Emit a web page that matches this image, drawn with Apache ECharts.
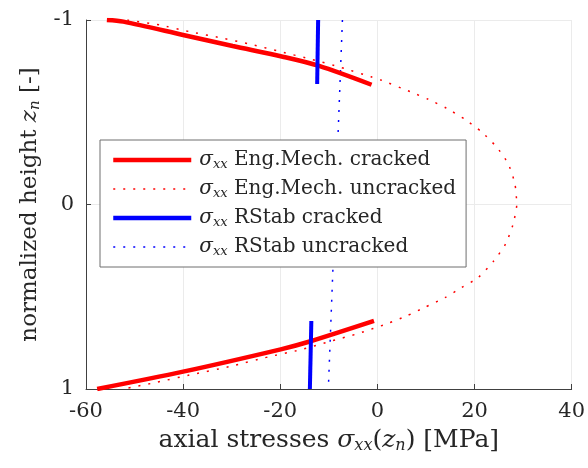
<!DOCTYPE html>
<html>
<head>
<meta charset="utf-8">
<script src="https://cdn.jsdelivr.net/npm/echarts@6/dist/echarts.min.js"></script>
<style>html,body{margin:0;padding:0;background:#fff}#c{width:588px;height:468px}</style>
</head>
<body>
<div id="c"></div>
<script>
// x ticks and y ticks
const xTicks = [-60, -40, -20, 0, 20, 40];
const yTicks = [-1, 0, 1];

// Eng.Mech. cracked (top and bottom branches) [stress, z]
const engCrackedTop = [[-55.7,-1.0],[-52.3,-0.991],[-40.0,-0.919],[-29.8,-0.859],[-19.5,-0.801],[-12.0,-0.751],[-1.2,-0.649]];
const engCrackedBottom = [[-57.7,1.0],[-40.0,0.906],[-19.9,0.785],[-14.1,0.744],[-0.7,0.631]];

// Eng.Mech. uncracked
const engUncracked = [[-51.5,-1.0],[-44.8,-0.973],[-38.7,-0.937],[-32.4,-0.904],[-26.0,-0.868],[-19.9,-0.828],[-13.6,-0.787],[-7.5,-0.743],[-1.3,-0.692],[0.7,-0.675],[6.8,-0.611],[10.5,-0.570],[14.3,-0.521],[18.0,-0.462],[21.4,-0.395],[24.5,-0.313],[26.9,-0.223],[28.3,-0.115],[28.7,0.0],[27.9,0.111],[26.4,0.214],[24.0,0.305],[20.8,0.395],[17.3,0.451],[13.9,0.505],[9.8,0.557],[6.1,0.603],[2.0,0.646],[-3.8,0.698],[-10.0,0.744],[-16.1,0.789],[-22.3,0.825],[-30.5,0.879],[-38.7,0.924],[-45.5,0.964],[-51.6,0.996]];

// RStab cracked
const rstabCrackedTop = [[-12.2,-1.0],[-12.4,-0.653]];
const rstabCrackedBottom = [[-13.6,0.631],[-13.9,1.0]];

// RStab uncracked
const rstabUncracked = [[-7.2,-1.0],[-10.1,1.0]];

const names = ['Eng.Mech. cracked','Eng.Mech. uncracked','RStab cracked','RStab uncracked'];

const FONT = 'DejaVu Serif';
const TXT = '#262626';
const RED = '#ff0000', BLUE = '#0000ff';

function mkRich(size, subSize, lh, pad) {
  return {
    i: {fontFamily: FONT, fontStyle: 'italic', fontSize: size, color: TXT, lineHeight: lh},
    sub: {fontFamily: FONT, fontStyle: 'italic', fontSize: subSize, color: TXT, lineHeight: lh, padding: [pad,0,0,0]},
    n: {fontFamily: FONT, fontSize: size, color: TXT, lineHeight: lh}
  };
}
const xRich = mkRich(25, 16, 28, 11);
const yRich = mkRich(23, 15, 26, 10);
const legRich = mkRich(20, 13, 22, 9);

const chart = echarts.init(document.getElementById('c'), null, {renderer: 'canvas'});

function lineSeries(name, data, color, width, type, smooth) {
  return {
    name: name, type: 'line', data: data, symbol: 'none', showSymbol: false,
    smooth: smooth || false,
    lineStyle: {color: color, width: width, type: type, cap: 'butt'},
    itemStyle: {color: color},
    animation: false, silent: true, clip: true
  };
}

chart.setOption({
  animation: false,
  backgroundColor: '#fff',
  grid: {left: 86, top: 20, right: 14, bottom: 79, containLabel: false},
  xAxis: {
    type: 'value', min: xTicks[0], max: xTicks[xTicks.length-1], interval: 20,
    axisLine: {show: true, onZero: false, lineStyle: {color: '#404040', width: 1}},
    axisTick: {show: true, inside: true, length: 5, lineStyle: {color: '#404040'}},
    axisLabel: {fontFamily: FONT, fontSize: 21, color: TXT, margin: 12},
    splitLine: {show: true, lineStyle: {color: '#ebebeb', width: 1}},
    name: 'axial stresses {i|σ}{sub|xx}{n|(}{i|z}{sub|n}{n|) [MPa]}',
    nameLocation: 'middle', nameGap: 37,
    nameTextStyle: {fontFamily: FONT, fontSize: 25, color: TXT, rich: xRich}
  },
  yAxis: {
    type: 'value', inverse: true, min: yTicks[0], max: yTicks[yTicks.length-1], interval: 1,
    axisLine: {show: true, onZero: false, lineStyle: {color: '#404040', width: 1}},
    axisTick: {show: true, inside: true, length: 5, lineStyle: {color: '#404040'}},
    axisLabel: {fontFamily: FONT, fontSize: 21, color: TXT, margin: 12},
    splitLine: {show: true, lineStyle: {color: '#ebebeb', width: 1}},
    name: 'normalized height {i|z}{sub|n} {n|[-]}',
    nameLocation: 'middle', nameGap: 36, nameRotate: 90,
    nameTextStyle: {fontFamily: FONT, fontSize: 23, color: TXT, rich: yRich}
  },
  legend: {
    show: true, orient: 'vertical', left: 100, top: 140,
    padding: [9, 10, 9, 11], itemGap: 7,
    itemWidth: 78, itemHeight: 14,
    backgroundColor: '#fff', borderColor: '#6e6e6e', borderWidth: 1,
    data: [
      {name: names[0], itemStyle: {opacity: 0}, lineStyle: {width: 4.5, type: 'solid', color: RED}},
      {name: names[1], itemStyle: {opacity: 0}, lineStyle: {width: 1.5, type: [2, 8], color: RED}},
      {name: names[2], itemStyle: {opacity: 0}, lineStyle: {width: 4.5, type: 'solid', color: BLUE}},
      {name: names[3], itemStyle: {opacity: 0}, lineStyle: {width: 1.5, type: [2, 8], color: BLUE}}
    ],
    itemStyle: {opacity: 0},
    formatter: function (n) { return '{i|σ}{sub|xx} {n|' + n + '}'; },
    textStyle: {fontFamily: FONT, fontSize: 20, color: TXT, rich: legRich, padding: [0,0,0,3]}
  },
  series: [
    lineSeries(names[1], engUncracked, RED, 1.5, [2, 8], 0.2),
    lineSeries(names[3], rstabUncracked, BLUE, 1.5, [2, 8]),
    lineSeries(names[0], engCrackedTop, RED, 4.5, 'solid', 0.3),
    lineSeries(names[0], engCrackedBottom, RED, 4.5, 'solid', 0.3),
    lineSeries(names[2], rstabCrackedTop, BLUE, 4, 'solid'),
    lineSeries(names[2], rstabCrackedBottom, BLUE, 4, 'solid')
  ]
});
</script>
</body>
</html>
